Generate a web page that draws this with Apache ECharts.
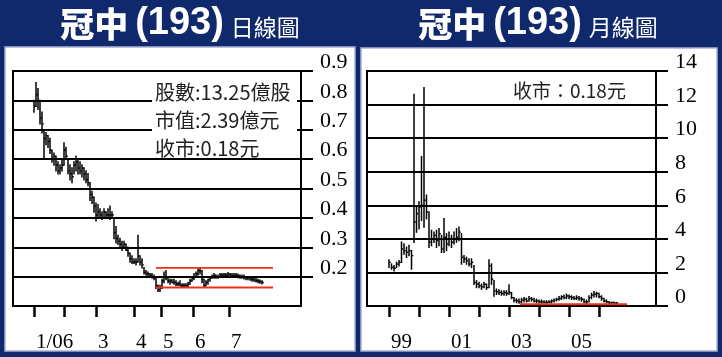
<!DOCTYPE html>
<html><head><meta charset="utf-8">
<script src="https://cdn.jsdelivr.net/npm/echarts@6/dist/echarts.min.js"></script>
<style>html,body{margin:0;padding:0;background:#10296c}#c{width:722px;height:357px}</style>
</head><body><div id="c"></div>
<script>
// ---- Daily chart (日線圖) ----
const dailyHigh = [
0.80,0.86,0.84,0.80,0.76,0.70,0.69,0.68,0.67,0.63,
0.62,0.61,0.59,0.58,0.60,0.655,0.64,0.60,0.58,0.57,
0.59,0.61,0.60,0.59,0.58,0.57,0.56,0.55,0.52,0.49,
0.47,0.45,0.445,0.43,0.42,0.43,0.42,0.43,0.44,0.42,
0.40,0.37,0.34,0.33,0.32,0.32,0.31,0.30,0.28,0.27,
0.26,0.26,0.34,0.27,0.26,0.23,0.22,0.215,0.21,0.21,
0.205,0.195,0.17,0.17,0.19,0.215,0.22,0.195,0.19,0.19,
0.19,0.185,0.18,0.185,0.175,0.175,0.175,0.18,0.19,0.20,
0.21,0.215,0.225,0.23,0.22,0.19,0.185,0.19,0.20,0.205,
0.21,0.205,0.205,0.21,0.21,0.21,0.21,0.213,0.21,0.21,
0.21,0.21,0.208,0.205,0.205,0.205,0.20,0.20,0.20,0.197,
0.195,0.193,0.19,0.188,0.185];
const dailyLow = [
0.76,0.78,0.77,0.72,0.69,0.60,0.65,0.64,0.62,0.59,
0.58,0.56,0.55,0.55,0.56,0.58,0.60,0.55,0.53,0.52,
0.55,0.56,0.55,0.55,0.54,0.53,0.52,0.51,0.46,0.45,
0.42,0.39,0.40,0.40,0.395,0.40,0.40,0.40,0.395,0.40,
0.33,0.315,0.31,0.30,0.29,0.30,0.29,0.27,0.25,0.245,
0.245,0.24,0.25,0.24,0.23,0.21,0.205,0.20,0.20,0.195,
0.19,0.16,0.15,0.15,0.16,0.18,0.19,0.18,0.175,0.18,
0.175,0.17,0.17,0.17,0.165,0.165,0.165,0.165,0.175,0.185,
0.19,0.20,0.205,0.21,0.18,0.165,0.17,0.175,0.185,0.195,
0.195,0.195,0.195,0.198,0.20,0.198,0.20,0.20,0.20,0.198,
0.198,0.20,0.197,0.195,0.195,0.193,0.19,0.19,0.188,0.185,
0.185,0.182,0.18,0.178,0.176];
const dailyClose = [
0.78,0.82,0.80,0.74,0.72,0.67,0.68,0.66,0.63,0.60,
0.61,0.58,0.56,0.57,0.58,0.63,0.61,0.56,0.55,0.54,
0.58,0.59,0.57,0.56,0.57,0.55,0.53,0.52,0.48,0.47,
0.44,0.41,0.42,0.41,0.40,0.42,0.41,0.41,0.41,0.41,
0.35,0.33,0.32,0.31,0.30,0.31,0.29,0.28,0.26,0.25,
0.25,0.25,0.27,0.25,0.24,0.215,0.21,0.21,0.205,0.20,
0.195,0.17,0.155,0.16,0.185,0.20,0.195,0.185,0.185,0.18,
0.18,0.175,0.175,0.17,0.17,0.17,0.17,0.175,0.185,0.195,
0.20,0.21,0.22,0.22,0.19,0.17,0.18,0.19,0.195,0.20,
0.205,0.20,0.20,0.205,0.205,0.205,0.205,0.208,0.205,0.203,
0.205,0.205,0.203,0.20,0.20,0.198,0.195,0.197,0.193,0.19,
0.188,0.187,0.185,0.182,0.18];
const dailyMonthTicks = [0, 15, 31, 50, 63.5, 79.5, 97.5];      // trading-day index of month starts
const dailyMonthLabels = ['1/06', '', '3', '4', '5', '6', '7'];
const dailyPriceTicks = [0.2, 0.3, 0.4, 0.5, 0.6, 0.7, 0.8, 0.9];
const dailyBandLevels = [0.23, 0.163];
const dailyBandSpan = [61, 119.5];

// ---- Monthly chart (月線圖) ----
const monthlyHigh = [
2.75,2.5,2.4,2.6,2.7,3.8,3.7,3.5,3.6,3.3,
12.6,5.9,6.2,8.9,13.0,6.6,5.6,4.5,4.4,4.5,
4.6,4.2,5.2,4.3,4.4,4.2,4.4,4.6,4.7,4.3,
3.0,2.9,2.8,2.8,2.4,1.5,1.4,1.3,1.4,1.3,
2.75,2.5,1.5,1.0,0.95,0.9,0.9,0.9,1.25,0.8,
0.5,0.42,0.4,0.45,0.5,0.45,0.55,0.5,0.45,0.4,
0.35,0.35,0.3,0.3,0.3,0.35,0.4,0.45,0.55,0.6,
0.65,0.7,0.65,0.6,0.55,0.6,0.55,0.5,0.4,0.35,
0.6,0.75,0.85,0.8,0.75,0.6,0.45,0.35,0.25,0.22,
0.22,0.2];
const monthlyLow = [
2.3,2.2,2.1,2.3,2.4,2.6,3.1,2.9,3.0,2.2,
3.8,4.4,4.6,5.1,4.7,5.2,3.5,3.6,3.8,3.5,
3.6,3.2,3.2,3.3,3.6,3.5,3.7,3.8,3.9,2.5,
2.6,2.5,2.4,2.3,1.3,1.1,1.1,1.0,1.1,1.0,
1.1,1.3,0.6,0.7,0.7,0.65,0.65,0.65,0.7,0.45,
0.25,0.2,0.18,0.2,0.25,0.25,0.3,0.3,0.25,0.2,
0.2,0.18,0.18,0.18,0.2,0.2,0.25,0.3,0.35,0.4,
0.45,0.45,0.45,0.4,0.4,0.4,0.35,0.3,0.2,0.15,
0.25,0.45,0.55,0.55,0.5,0.35,0.25,0.2,0.15,0.15,
0.15,0.15];
const monthlyClose = [
2.6,2.3,2.25,2.5,2.6,3.4,3.3,3.2,3.3,3.0,
5.0,5.5,5.9,6.0,6.3,5.6,3.8,4.0,4.2,3.9,
4.3,3.4,4.1,3.7,4.0,3.8,4.0,4.1,4.4,2.9,
2.8,2.7,2.5,2.6,1.4,1.3,1.2,1.15,1.3,1.1,
2.4,1.6,0.9,0.85,0.8,0.75,0.8,0.75,0.8,0.5,
0.35,0.3,0.25,0.35,0.4,0.3,0.45,0.4,0.3,0.3,
0.25,0.25,0.22,0.22,0.25,0.3,0.35,0.4,0.45,0.55,
0.5,0.6,0.55,0.5,0.45,0.5,0.45,0.4,0.25,0.25,
0.5,0.65,0.7,0.75,0.55,0.45,0.3,0.25,0.2,0.2,
0.18,0.18];
const monthlyYearTicks = [0, 12, 24, 36, 48, 60, 72, 84];   // month index (from Jan 1999) of year starts
const monthlyYearLabelPos = [0, 24, 48, 72];
const monthlyYearLabels = ['99', '01', '03', '05'];
const monthlyPriceTicks = [2, 4, 6, 8, 10, 12, 14];
const monthlyBandLevel = 0.1;
const monthlyBandSpan = [52.4, 95.2];

// ---- Texts ----
const leftTitle = ['冠中', '(193)', '日線圖'];
const rightTitle = ['冠中', '(193)', '月線圖'];
const leftNotes = ['股數:13.25億股', '市值:2.39億元', '收市:0.18元'];
const rightNote = '收市：0.18元';

const SERIF = '"Liberation Serif","Times New Roman",serif';
const CJK = '"Noto Sans CJK TC","Noto Sans CJK SC",sans-serif';
const INK = '#000';

function hlc(params, api) {
  const x = api.value(0);
  const lo = api.coord([x, api.value(1)]);
  const hi = api.coord([x, api.value(2)]);
  const cl = api.coord([x, api.value(3)]);
  return {
    type: 'group',
    children: [
      { type: 'line', shape: { x1: lo[0], y1: lo[1] + 0.7, x2: hi[0], y2: hi[1] - 0.7 }, style: { stroke: INK, lineWidth: 1.5 } },
      { type: 'line', shape: { x1: cl[0], y1: cl[1], x2: cl[0] + 1.8, y2: cl[1] }, style: { stroke: INK, lineWidth: 1.4 } }
    ]
  };
}

const dailyData = dailyClose.map((c, i) => [i, dailyLow[i], dailyHigh[i], c]);
const monthlyData = monthlyClose.map((c, i) => [i, monthlyLow[i], monthlyHigh[i], c]);

function xAxisCfg(grid, min, max, ticks, labelPos, fmt) {
  return {
    gridIndex: grid, type: 'value', min: min, max: max,
    axisLine: { show: true, onZero: false, lineStyle: { color: INK, width: 2 } },
    axisTick: { show: true, customValues: ticks, length: 11, lineStyle: { color: INK, width: 2.5 } },
    axisLabel: { customValues: labelPos, formatter: fmt, align: 'left', padding: [0, 0, 0, 2], margin: 26,
      fontFamily: SERIF, fontSize: 21, color: INK },
    splitLine: { show: false }
  };
}
function yAxisCfg(grid, min, max, interval, ticks, fmt) {
  return {
    gridIndex: grid, type: 'value', position: 'right', min: min, max: max, interval: interval,
    axisLine: { show: true, onZero: false, lineStyle: { color: INK, width: 2 } },
    axisTick: { show: true, customValues: ticks, length: 12, lineStyle: { color: INK, width: 2 } },
    axisLabel: { customValues: ticks, formatter: fmt, margin: 19, fontFamily: SERIF, fontSize: 22, color: INK,
      verticalAlign: 'bottom', lineHeight: 17 },
    splitLine: { show: true, lineStyle: { color: INK, width: 2 } }
  };
}

function title(cx, parts) {
  return {
    type: 'text', x: cx, y: 24, z: 10,
    style: {
      text: '{a|' + parts[0] + '}{p|' + parts[1] + '}{c|' + parts[2] + '}',
      align: 'center', verticalAlign: 'middle',
      rich: {
        a: { fontSize: 34, fontWeight: 900, fontFamily: CJK, fill: '#fff', padding: [0, 7, 0, 0] },
        p: { fontSize: 38, fontWeight: 'bold', fontFamily: '"Liberation Sans",Arial,sans-serif', fill: '#fff', padding: [0, 7, 0, 0] },
        c: { fontSize: 23, fontWeight: 'normal', fontFamily: CJK, fill: '#fff', padding: [6, 0, 0, 0] }
      }
    }
  };
}

const chart = echarts.init(document.getElementById('c'), null, { renderer: 'canvas' });
chart.setOption({
  animation: false,
  backgroundColor: '#10296c',
  grid: [
    { left: 13, right: 421, top: 71, bottom: 51, show: true, borderColor: INK, borderWidth: 2, backgroundColor: 'transparent', outerBoundsMode: 'none' },
    { left: 367, right: 66, top: 71, bottom: 51, show: true, borderColor: INK, borderWidth: 2, backgroundColor: 'transparent', outerBoundsMode: 'none' }
  ],
  xAxis: [
    xAxisCfg(0, -10.5, 133.5, dailyMonthTicks, dailyMonthTicks,
      v => { const k = dailyMonthTicks.indexOf(v); return k >= 0 ? dailyMonthLabels[k] : ''; }),
    xAxisCfg(1, -8.8, 106.8, monthlyYearTicks, monthlyYearLabelPos,
      v => { const k = monthlyYearLabelPos.indexOf(v); return k >= 0 ? monthlyYearLabels[k] : ''; })
  ],
  yAxis: [
    yAxisCfg(0, 0.1, 0.9, 0.1, dailyPriceTicks, v => v.toFixed(1)),
    yAxisCfg(1, 0, 14, 2, [0].concat(monthlyPriceTicks), v => String(v))
  ],
  series: [
    { type: 'custom', xAxisIndex: 0, yAxisIndex: 0, renderItem: hlc, data: dailyData, z: 3 },
    { type: 'line', xAxisIndex: 0, yAxisIndex: 0, symbol: 'none', lineStyle: { color: '#e8321e', width: 1.8 },
      data: [[dailyBandSpan[0], dailyBandLevels[0]], [dailyBandSpan[1], dailyBandLevels[0]]], z: 4 },
    { type: 'line', xAxisIndex: 0, yAxisIndex: 0, symbol: 'none', lineStyle: { color: '#e8321e', width: 1.8 },
      data: [[dailyBandSpan[0], dailyBandLevels[1]], [dailyBandSpan[1], dailyBandLevels[1]]], z: 4 },
    { type: 'custom', xAxisIndex: 1, yAxisIndex: 1, renderItem: hlc, data: monthlyData, z: 3 },
    { type: 'line', xAxisIndex: 1, yAxisIndex: 1, symbol: 'none', lineStyle: { color: '#e8321e', width: 2 },
      data: [[monthlyBandSpan[0], monthlyBandLevel], [monthlyBandSpan[1], monthlyBandLevel]], z: 4 }
  ],
  graphic: [
    { type: 'rect', z: -1, shape: { x: 5, y: 47, width: 350, height: 304 }, style: { fill: '#fff', stroke: '#a9b0d3', lineWidth: 1.5 } },
    { type: 'rect', z: -1, shape: { x: 361, y: 48, width: 356, height: 303 }, style: { fill: '#fff', stroke: '#a9b0d3', lineWidth: 1.5 } },
    title(180, leftTitle),
    title(538, rightTitle),
    { type: 'rect', z: 5, shape: { x: 152, y: 78, width: 145, height: 77 }, style: { fill: '#fff' } },
    { type: 'text', z: 6, x: 155, y: 92, style: { text: leftNotes[0], fontSize: 20, fontFamily: CJK, fill: '#222', verticalAlign: 'middle' } },
    { type: 'text', z: 6, x: 155, y: 120, style: { text: leftNotes[1], fontSize: 20, fontFamily: CJK, fill: '#222', verticalAlign: 'middle' } },
    { type: 'text', z: 6, x: 155, y: 148, style: { text: leftNotes[2], fontSize: 20, fontFamily: CJK, fill: '#222', verticalAlign: 'middle' } },
    { type: 'text', z: 6, x: 513, y: 91, style: { text: rightNote, fontSize: 19, fontFamily: CJK, fill: '#222', verticalAlign: 'middle' } }
  ]
});
</script></body></html>
